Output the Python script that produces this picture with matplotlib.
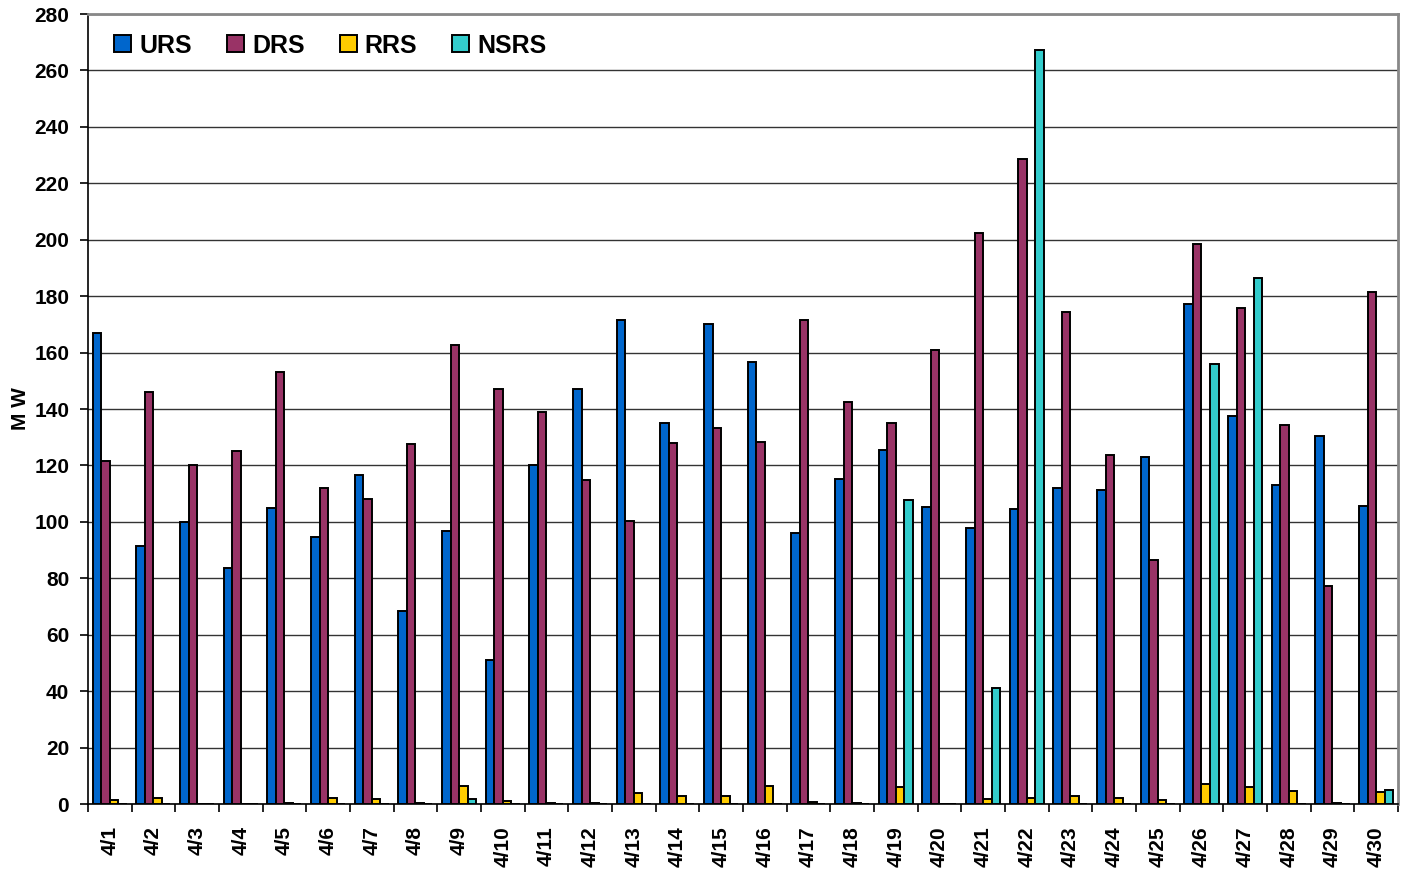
import numpy as np
import matplotlib.pyplot as plt

days = [f"4/{d}" for d in range(1, 31)]

urs = [167, 91.4, 100, 83.6, 105, 94.6, 116.6, 68.4, 96.8, 51,
       120, 147, 171.6, 135, 170, 156.7, 96, 115.2, 125.5, 105.3,
       97.8, 104.6, 112, 111.3, 123, 177.2, 137.5, 113, 130.4, 105.6]
drs = [121.6, 146, 120, 125, 153, 112, 108, 127.6, 162.7, 147,
       139, 114.8, 100.3, 128, 133.3, 128.3, 171.6, 142.5, 135, 161,
       202.4, 228.6, 174.4, 123.7, 86.5, 198.5, 175.8, 134.3, 77.3, 181.5]
rrs = [1.5, 2.1, 0, 0, 0.5, 2, 1.8, 0.3, 6.5, 1.2,
       0.5, 0.2, 4, 2.8, 2.8, 6.4, 0.7, 0.2, 6, 0,
       1.8, 2, 3, 2, 1.5, 7, 6, 4.5, 0.2, 4.2]
nsrs = [0, 0, 0, 0, 0, 0, 0, 0, 1.8, 0,
        0, 0, 0, 0, 0, 0, 0, 0, 107.7, 0,
        41.1, 267.2, 0, 0, 0, 156, 186.4, 0, 0, 5]

series = [("URS", urs, "#0066CC"), ("DRS", drs, "#993366"),
          ("RRS", rrs, "#FFCC00"), ("NSRS", nsrs, "#33CCCC")]

plt.rcParams['font.family'] = ['Liberation Sans', 'DejaVu Sans']
plt.rcParams['font.weight'] = 'bold'

fig = plt.figure(figsize=(14.05, 8.71), dpi=100)
ax = fig.add_axes([0.0626, 0.0769, 0.9324, 0.907])

x = np.arange(len(days))
w = 0.195
for i, (name, vals, col) in enumerate(series):
    ax.bar(x + (i - 1.5) * w, vals, w, color=col, edgecolor='black',
           linewidth=1.4, label=name, zorder=3)

ax.set_xlim(-0.5, len(days) - 0.5)
ax.set_ylim(0, 280)
ax.set_yticks(np.arange(0, 281, 20))
ax.yaxis.grid(True, color='#333333', linewidth=1, zorder=0)
ax.set_axisbelow(True)

ax.set_xticks(x)
ax.set_xticklabels(days, rotation=90, fontsize=15, fontweight='bold')
ax.set_xticks(np.arange(-0.5, len(days)), minor=True)
ax.tick_params(axis='x', which='major', length=0, pad=16)
ax.tick_params(axis='x', which='minor', length=6, width=1.2, direction='out')
ax.tick_params(axis='y', length=5.5, width=1.2, labelsize=15, pad=8)
for lab in ax.get_yticklabels():
    lab.set_fontweight('bold')

ax.spines['left'].set_linewidth(1.2)
ax.spines['bottom'].set_linewidth(1.2)
ax.spines['top'].set_color('#888888')
ax.spines['top'].set_linewidth(2)
ax.spines['right'].set_color('#888888')
ax.spines['right'].set_linewidth(2)

ax.set_ylabel("M W", fontsize=15, fontweight='bold', labelpad=3)

leg = ax.legend(loc='upper left', ncol=4, frameon=False, borderpad=0,
                prop={'size': 18, 'weight': 'bold'},
                handlelength=0.68, handleheight=0.68, handletextpad=0.32,
                columnspacing=1.4, bbox_to_anchor=(0.0106, 0.991))

fig.savefig("out.png", dpi=100)
